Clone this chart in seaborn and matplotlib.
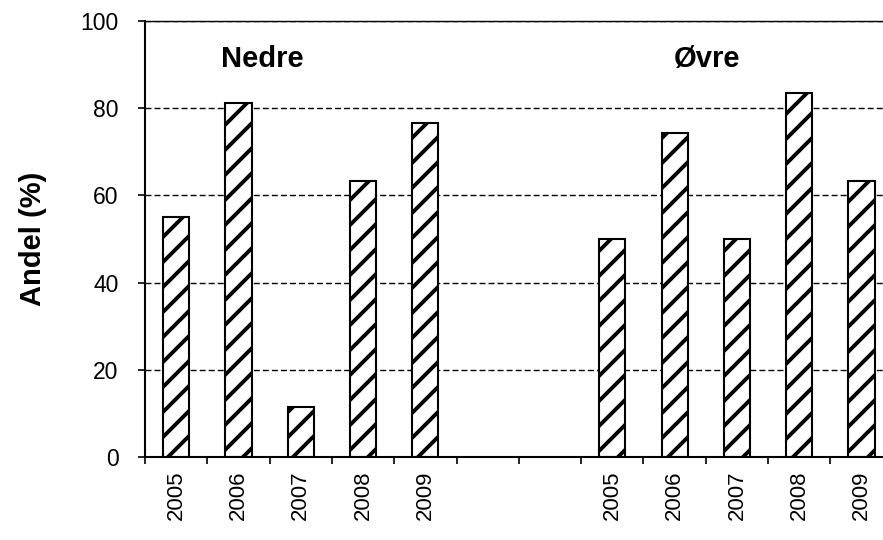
import numpy as np
import pandas as pd
import matplotlib
matplotlib.use("Agg")
import matplotlib.pyplot as plt
import seaborn as sns
from matplotlib.backend_bases import GraphicsContextBase

# Data
groups = ["Nedre", "Nedre", "Nedre", "Nedre", "Nedre", "", "", "Øvre", "Øvre", "Øvre", "Øvre", "Øvre"]
years = ["2005", "2006", "2007", "2008", "2009", "", "", "2005", "2006", "2007", "2008", "2009"]
values = [55.0, 81.2, 11.5, 63.3, 76.7, np.nan, np.nan, 50.0, 74.4, 50.0, 83.6, 63.3]
yticks = [0, 20, 40, 60, 80, 100]

# denser hatch pattern
_orig_hatch_path = GraphicsContextBase.get_hatch_path
def _dense_hatch_path(self, density=6.0):
    return _orig_hatch_path(self, 8.0)
GraphicsContextBase.get_hatch_path = _dense_hatch_path

sns.set_theme(style="white")
plt.rcParams['font.family'] = ['Liberation Sans', 'DejaVu Sans']
plt.rcParams['hatch.linewidth'] = 2.8
plt.rcParams['text.color'] = 'black'
plt.rcParams['axes.labelcolor'] = 'black'
plt.rcParams['xtick.color'] = 'black'
plt.rcParams['ytick.color'] = 'black'

keys = [f"k{i}" for i in range(len(values))]
df = pd.DataFrame({"key": keys, "value": values})

fig = plt.figure(figsize=(8.83, 5.40), dpi=100)
ax = fig.add_axes([145/883, 1-457/540, (892.7-145)/883, (457-21)/540])

sns.barplot(data=df, x="key", y="value", order=keys, width=0.42,
            color="white", edgecolor="black", linewidth=1.5, ax=ax, saturation=1)
for p in ax.patches:
    p.set_hatch("/")
    p.set_facecolor("white")
    p.set_edgecolor("black")

ax.set_ylim(0, 100)
ax.set_xlim(-0.5, len(values) - 0.5)
ax.set_yticks(yticks)
ax.set_yticklabels([str(v) for v in yticks], fontsize=16.5)
ax.set_xticks(range(len(values)))
ax.set_xticklabels(years, rotation=90, fontsize=16)
ax.set_xticks(np.arange(-0.5, len(values), 1.0), minor=True)
ax.tick_params(axis="x", which="major", length=0, pad=10, top=False)
ax.tick_params(axis="x", which="minor", length=5, width=1.2, color="black",
               direction="out", bottom=True, top=False)
ax.tick_params(axis="y", length=5, width=1.2, color="black", direction="out",
               left=True, right=False, pad=14)

for y in yticks[1:]:
    ax.axhline(y, color="black", linestyle=(0, (4.3, 2.2)), linewidth=1.0, zorder=0)

ax.spines["right"].set_visible(False)
ax.spines["top"].set_visible(True)
ax.spines["top"].set_linewidth(1.0)
ax.spines["top"].set_color("black")
for s in ["left", "bottom"]:
    ax.spines[s].set_color("black")
    ax.spines[s].set_linewidth(1.5)

ax.set_xlabel("")
ax.set_ylabel("Andel (%)", fontsize=21, fontweight="bold", labelpad=24)

ax.text(1.39, 91.2, "Nedre", ha="center", va="center", fontsize=21, fontweight="bold")
ax.text(8.52, 91.2, "Øvre", ha="center", va="center", fontsize=21, fontweight="bold")

fig.savefig("out.png", dpi=100)
